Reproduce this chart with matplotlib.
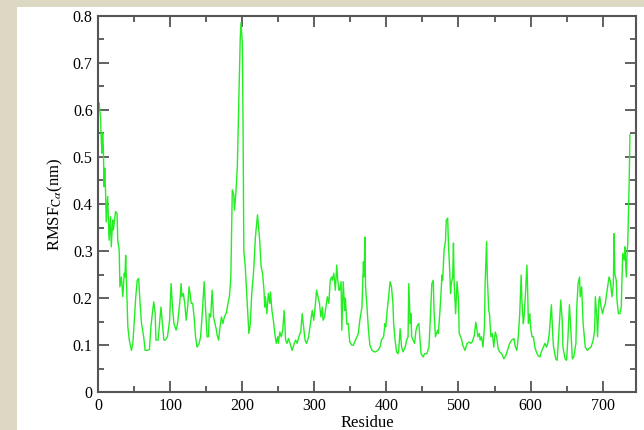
import matplotlib
matplotlib.use("Agg")
import matplotlib.pyplot as plt
from matplotlib.patches import Rectangle
from matplotlib.ticker import MultipleLocator

plt.rcParams['font.family'] = ['Liberation Serif', 'DejaVu Serif']
plt.rcParams['mathtext.fontset'] = 'stix'

residue = [0, 1, 3, 4, 5, 6, 7, 8, 9, 10, 11, 13, 15, 17, 18, 20, 21, 23, 24, 26, 27, 29, 30, 32, 34, 36, 37, 38, 40, 41, 43, 46, 48, 50,
           52, 54, 56, 58, 60, 63, 65, 68, 71, 73, 75, 77, 79, 80, 83, 85, 87, 89, 91, 93, 96, 99, 101, 103, 105, 108, 110, 113, 115, 116,
           118, 120, 122, 124, 126, 128, 129, 131, 133, 135, 137, 140, 142, 144, 147, 149, 151, 153, 154, 156, 158, 160, 162, 164, 165, 167,
           169, 171, 173, 175, 177, 178, 180, 182, 184, 186, 188, 189, 191, 193, 195, 197, 198, 200, 201, 202, 204, 206, 208, 209, 211, 213,
           215, 216, 218, 219, 221, 222, 224, 226, 228, 230, 231, 232, 234, 236, 238, 239, 241, 243, 245, 247, 249, 250, 252, 254, 256, 258,
           260, 262, 264, 267, 269, 272, 274, 276, 279, 281, 283, 285, 287, 289, 292, 295, 297, 299, 301, 303, 305, 307, 309, 311, 312, 314,
           316, 318, 320, 322, 324, 325, 327, 329, 331, 332, 334, 335, 337, 338, 340, 342, 343, 345, 347, 349, 352, 354, 356, 358, 361, 363,
           366, 368, 369, 370, 371, 373, 375, 377, 380, 383, 385, 388, 391, 393, 396, 398, 399, 401, 403, 405, 407, 409, 410, 412, 414, 416,
           417, 419, 421, 423, 426, 428, 430, 431, 433, 434, 435, 437, 439, 441, 443, 445, 447, 448, 451, 453, 456, 459, 461, 463, 465, 466,
           468, 471, 472, 474, 476, 477, 478, 480, 482, 483, 485, 486, 488, 489, 490, 492, 493, 494, 496, 498, 500, 501, 504, 506, 509, 512,
           515, 517, 519, 522, 524, 525, 527, 529, 530, 532, 534, 536, 537, 539, 540, 542, 543, 545, 547, 549, 551, 553, 555, 557, 560, 563,
           566, 568, 571, 574, 577, 579, 581, 583, 585, 587, 588, 590, 591, 593, 595, 596, 597, 599, 600, 602, 604, 606, 608, 610, 613, 615,
           617, 620, 622, 624, 626, 629, 631, 632, 635, 637, 639, 642, 644, 645, 648, 650, 652, 654, 656, 658, 660, 663, 664, 666, 668, 669,
           671, 673, 675, 676, 679, 681, 684, 687, 689, 690, 692, 693, 695, 696, 698, 700, 702, 704, 705, 707, 709, 711, 713, 715, 716, 717,
           719, 720, 722, 724, 726, 727, 728, 730, 731, 733, 734, 735, 737, 738]

rmsf = [0.61, 0.615, 0.586, 0.543, 0.508, 0.551, 0.52, 0.437, 0.476, 0.43, 0.362, 0.416, 0.323, 0.373, 0.309, 0.366, 0.345, 0.373, 0.384,
        0.38, 0.323, 0.302, 0.224, 0.245, 0.203, 0.253, 0.245, 0.291, 0.189, 0.139, 0.111, 0.089, 0.104, 0.153,
        0.203, 0.238, 0.242, 0.189, 0.146, 0.118, 0.089, 0.089, 0.091, 0.139, 0.167, 0.192, 0.167, 0.111, 0.111, 0.146, 0.181, 0.146,
        0.111, 0.111, 0.118, 0.153, 0.231, 0.181, 0.146, 0.132, 0.146, 0.189, 0.231, 0.203,
        0.21, 0.189, 0.153, 0.181, 0.224, 0.203, 0.189, 0.189, 0.16, 0.118, 0.096, 0.104, 0.118, 0.16, 0.235, 0.174, 0.118, 0.118, 0.167,
        0.16, 0.217, 0.16, 0.146, 0.132, 0.121, 0.111,
        0.139, 0.16, 0.146, 0.16, 0.167, 0.17, 0.189, 0.203, 0.245, 0.43, 0.42, 0.387, 0.423, 0.48, 0.62, 0.75, 0.785, 0.742, 0.551, 0.30,
        0.267, 0.21, 0.153, 0.125, 0.146, 0.21,
        0.245, 0.267, 0.327, 0.345, 0.377, 0.359, 0.323, 0.267, 0.253, 0.217, 0.181, 0.203, 0.167, 0.21, 0.189, 0.213, 0.174, 0.153, 0.125,
        0.104, 0.118, 0.104, 0.128, 0.118, 0.132, 0.174,
        0.111, 0.104, 0.114, 0.1, 0.089, 0.104, 0.111, 0.104, 0.121, 0.128, 0.167, 0.139, 0.111, 0.104, 0.118, 0.153, 0.174, 0.153, 0.181,
        0.217, 0.203, 0.189, 0.16, 0.181, 0.153, 0.16,
        0.181, 0.203, 0.189, 0.238, 0.245, 0.238, 0.253, 0.217, 0.27, 0.245, 0.217, 0.217, 0.235, 0.132, 0.235, 0.174, 0.2, 0.145, 0.146,
        0.107, 0.1, 0.1, 0.107, 0.114, 0.125, 0.153,
        0.181, 0.277, 0.245, 0.33, 0.224, 0.181, 0.132, 0.1, 0.089, 0.086, 0.086, 0.089, 0.096, 0.111, 0.118, 0.146, 0.139, 0.174, 0.203,
        0.235, 0.224, 0.189, 0.146, 0.111, 0.086, 0.082,
        0.089, 0.135, 0.096, 0.086, 0.096, 0.111, 0.118, 0.231, 0.146, 0.167, 0.118, 0.111, 0.104, 0.132, 0.142, 0.146, 0.104, 0.082, 0.075,
        0.082, 0.082, 0.096, 0.16, 0.231, 0.238, 0.174,
        0.118, 0.132, 0.125, 0.167, 0.217, 0.249, 0.238, 0.302, 0.323, 0.366, 0.37, 0.317, 0.252, 0.21, 0.231, 0.245, 0.317, 0.231, 0.167,
        0.235, 0.196, 0.125, 0.114, 0.1, 0.089, 0.104,
        0.107, 0.104, 0.107, 0.121, 0.149, 0.139, 0.118, 0.125, 0.111, 0.118, 0.096, 0.139, 0.231, 0.32, 0.245, 0.174, 0.167, 0.118, 0.125,
        0.096, 0.128, 0.118, 0.093, 0.086, 0.082, 0.071,
        0.079, 0.089, 0.104, 0.111, 0.114, 0.096, 0.089, 0.118, 0.167, 0.249, 0.196, 0.146, 0.16, 0.21, 0.27, 0.217, 0.146, 0.167, 0.139,
        0.118, 0.118, 0.096, 0.086, 0.079, 0.075, 0.086,
        0.093, 0.104, 0.096, 0.104, 0.125, 0.186, 0.118, 0.096, 0.071, 0.068, 0.118, 0.196, 0.153, 0.096, 0.071, 0.068, 0.118, 0.186, 0.132,
        0.071, 0.075, 0.104, 0.174, 0.231, 0.245, 0.203,
        0.224, 0.146, 0.111, 0.096, 0.089, 0.093, 0.096, 0.111, 0.132, 0.203, 0.16, 0.118, 0.196, 0.203, 0.181, 0.167, 0.181, 0.189, 0.203,
        0.224, 0.245, 0.235, 0.203, 0.231, 0.337, 0.252,
        0.238, 0.196, 0.167, 0.167, 0.181, 0.245, 0.295, 0.281, 0.309, 0.245, 0.295, 0.317, 0.45, 0.547]

xlabel = 'Residue'
ylabel = r'RMSF$_{\mathrm{C}\alpha}$(nm)'

fig = plt.figure(figsize=(6.44, 4.30), dpi=100)
fig.patch.set_facecolor('white')
beige = '#ddd8c4'
fig.patches.append(Rectangle((0, 0), 17 / 644, 1, transform=fig.transFigure, facecolor=beige, edgecolor='none', zorder=0))
fig.patches.append(Rectangle((0, 1 - 7 / 430), 1, 7 / 430, transform=fig.transFigure, facecolor=beige, edgecolor='none', zorder=0))

ax = fig.add_axes([98.3 / 644, 1 - 392.3 / 430, (635.7 - 98.3) / 644, (392.3 - 15.7) / 430])
ax.plot(residue, rmsf, color='#22ee22', linewidth=1.0)
ax.set_xlim(0, 746)
ax.set_ylim(0, 0.8)
ax.xaxis.set_major_locator(MultipleLocator(100))
ax.xaxis.set_minor_locator(MultipleLocator(50))
ax.yaxis.set_major_locator(MultipleLocator(0.1))
ax.yaxis.set_minor_locator(MultipleLocator(0.05))
ax.yaxis.set_major_formatter(matplotlib.ticker.FuncFormatter(lambda v, p: '0' if abs(v) < 1e-9 else f'{v:.1f}'))
ax.tick_params(which='both', direction='in', top=True, right=True, color='#555555', labelsize=11.5, labelcolor='black')
ax.tick_params(which='major', length=8, width=1.3, pad=4)
ax.tick_params(which='minor', length=4.5, width=1.3)
for s in ax.spines.values():
    s.set_color('#555555')
    s.set_linewidth(1.5)
ax.set_xlabel(xlabel, fontsize=12, labelpad=1)
ax.set_ylabel(ylabel, fontsize=12, labelpad=6)

fig.savefig('out.png', dpi=100)
